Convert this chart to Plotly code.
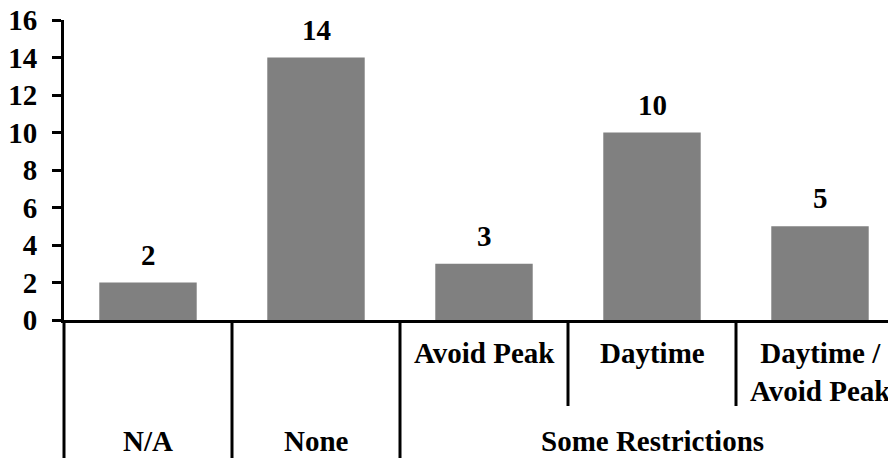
import plotly.graph_objects as go

categories = ["N/A", "None", "Avoid Peak", "Daytime", "Daytime / Avoid Peak"]
level1_labels = ["", "", "Avoid Peak", "Daytime", "Daytime /<br>Avoid Peak"]
groups = ["N/A", "None", "Some Restrictions"]
group_spans = [(0, 0), (1, 1), (2, 4)]
values = [2, 14, 3, 10, 5]
y_ticks = [0, 2, 4, 6, 8, 10, 12, 14, 16]

FONT = "Liberation Serif, Times New Roman, serif"
FS = 29
BAR_COLOR = "#808080"

# page has an 8px body margin, so the figure is drawn 8px smaller and offset
OFF = 8
PLOT_TOP, PLOT_BOTTOM = 20 - OFF, 320 - OFF
PLOT_H = PLOT_BOTTOM - PLOT_TOP

fig = go.Figure()
fig.add_trace(go.Bar(
    x=categories, y=values, marker=dict(color=BAR_COLOR, line=dict(width=0)),
    width=0.58, showlegend=False, hoverinfo="skip",
))

annotations = []
for c, v in zip(categories, values):
    annotations.append(dict(
        x=c, y=v, xref="x", yref="y", text=f"<b>{v}</b>", showarrow=False,
        yanchor="bottom", yshift=10, font=dict(family=FONT, size=FS, color="black"),
    ))
for i, lab in enumerate(level1_labels):
    if not lab:
        continue
    two = "<br>" in lab
    annotations.append(dict(
        x=i, y=(320 - (372 if two else 353)) / PLOT_H, xref="x", yref="paper",
        text=f"<b>{lab}</b>", showarrow=False, yanchor="middle", xanchor="center",
        font=dict(family=FONT, size=FS, color="black"),
    ))
for g, (a, b) in zip(groups, group_spans):
    annotations.append(dict(
        x=(a + b) / 2, y=(320 - 441) / PLOT_H, xref="x", yref="paper",
        text=f"<b>{g}</b>", showarrow=False, yanchor="middle", xanchor="center",
        font=dict(family=FONT, size=FS, color="black"),
    ))

shapes = []
bottom = -(458 - 320) / PLOT_H
short = -(406 - 320) / PLOT_H
shapes.append(dict(type="line", xref="paper", yref="paper", x0=0, x1=0, y0=0, y1=bottom,
                   line=dict(color="black", width=3)))
for xb in [0.5, 1.5]:
    shapes.append(dict(type="line", xref="x", yref="paper", x0=xb, x1=xb, y0=0, y1=bottom,
                       line=dict(color="black", width=3)))
for xb in [2.5, 3.5]:
    shapes.append(dict(type="line", xref="x", yref="paper", x0=xb, x1=xb, y0=0, y1=short,
                       line=dict(color="black", width=3)))

W, H = 896 - OFF, 458 - OFF
L = 64 - OFF
fig.update_layout(
    width=W, height=H,
    margin=dict(l=L, r=0, t=PLOT_TOP, b=H - PLOT_BOTTOM, autoexpand=False),
    paper_bgcolor="white", plot_bgcolor="white",
    annotations=annotations, shapes=shapes,
    font=dict(family=FONT, size=FS, color="black"),
)
fig.update_xaxes(
    type="category", range=[-0.5, -0.5 + (W - L) / 168], automargin=False,
    showticklabels=False, ticks="", showline=True, linecolor="black", linewidth=3,
    showgrid=False, zeroline=False, fixedrange=True,
)
fig.update_yaxes(
    range=[0, 16], tickvals=y_ticks, ticktext=[f"<b>{t}</b>" for t in y_ticks],
    ticks="outside", ticklen=9, tickwidth=3, tickcolor="black", automargin=False,
    showline=True, linecolor="black", linewidth=3, showgrid=False, zeroline=False,
    tickfont=dict(family=FONT, size=FS, color="black"), ticklabelstandoff=9,
    ticklabeloverflow="allow", fixedrange=True,
)

fig.write_html("out.html")
